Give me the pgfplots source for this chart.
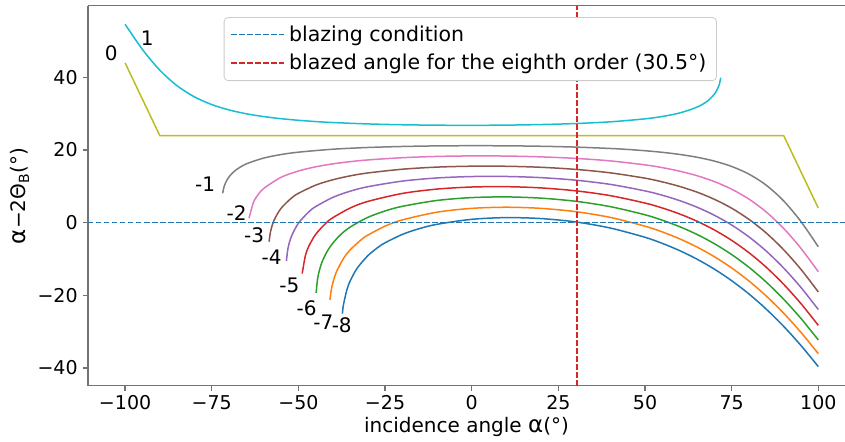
\documentclass[border=0pt]{standalone}
\usepackage{fontspec}
\setmainfont{DejaVu Sans}
\usepackage{pgfplots}
\pgfplotsset{compat=1.18}

\definecolor{c0}{HTML}{1F77B4}
\definecolor{c1}{HTML}{FF7F0E}
\definecolor{c2}{HTML}{2CA02C}
\definecolor{c3}{HTML}{D62728}
\definecolor{c4}{HTML}{9467BD}
\definecolor{c5}{HTML}{8C564B}
\definecolor{c6}{HTML}{E377C2}
\definecolor{c7}{HTML}{7F7F7F}
\definecolor{c8}{HTML}{BCBD22}
\definecolor{c9}{HTML}{17BECF}

\begin{document}
\begin{tikzpicture}
\begin{axis}[
    name=ax,
    scale only axis,
    width=378.5pt, height=190pt,
    xmin=-110.7, xmax=107.7,
    ymin=-44.9, ymax=59.75,
    axis y line*=left,
    axis line style={black!55, line width=0.6pt},
    tick pos=left,
    tick align=outside,
    major tick length=2.5pt,
    tick style={black!55, line width=0.6pt},
    xtick={-100,-75,-50,-25,0,25,50,75,100},
    xticklabels={−100,−75,−50,−25,0,25,50,75,100},
    ytick={-40,-20,0,20,40},
    yticklabels={−40,−20,0,20,40},
    ticklabel style={font=\fontsize{9.5}{10}\selectfont, inner sep=1pt},
    xticklabel style={yshift=-1.2pt},
    yticklabel style={xshift=-1.5pt},
    xlabel={incidence angle {\fontsize{11.5}{12}\selectfont α}(°)},
    ylabel={{\fontsize{11.5}{12}\selectfont α}−2Θ\textsubscript{B}(°)},
    xlabel style={font=\fontsize{10}{12}\selectfont, inner sep=0.5pt, at={(axis description cs:0.5,-0.108)}, anchor=center},
    ylabel style={font=\fontsize{10}{12}\selectfont, at={(axis description cs:-0.09,0.5)}, anchor=center},
    no marks,
    every axis plot/.append style={line width=0.75pt},
    legend style={
        at={(0.505,0.97)}, anchor=north,
        font=\fontsize{10.25}{12}\selectfont,
        draw=black!20, rounded corners=2pt,
        fill=white,
        row sep=1pt
    },
    legend cell align=left,
    legend image code/.code={\draw[#1] (0pt,0pt) -- (21pt,0pt); \path (0pt,0pt) -- (26.5pt,0pt);},
]

% order -8
\addplot[c0, smooth, tension=0.5, forget plot] coordinates {
(-37.3,-25.04) (-37,-22.62) (-36,-18.46) (-35,-15.92) (-33,-12.49) (-30,-9.12)
(-27,-6.78) (-25,-5.55) (-20,-3.23) (-15,-1.61) (-10,-0.45) (0,0.92) (10,1.39)
(20,1.13) (30,0.20) (40,-1.48) (50,-4.03) (55,-5.71) (60,-7.70) (65,-10.05)
(70,-12.79) (75,-15.98) (80,-19.64) (85,-23.83) (90,-28.55) (95,-33.83) (100,-39.64)};
% order -7
\addplot[c1, smooth, tension=0.5, forget plot] coordinates {
(-40.9,-21.25) (-40.5,-18.45) (-40,-16.33) (-39,-13.49) (-37,-9.88) (-35,-7.43)
(-32,-4.80) (-30,-3.46) (-25,-0.96) (-20,0.76) (-10,2.89) (0,3.94) (10,4.25)
(20,3.94) (30,3.03) (40,1.45) (50,-0.97) (55,-2.56) (60,-4.46) (65,-6.71)
(70,-9.37) (75,-12.47) (80,-16.07) (85,-20.22) (90,-24.93) (95,-30.22) (100,-36.07)};
% order -6
\addplot[c2, smooth, tension=0.5, forget plot] coordinates {
(-44.87,-19.33) (-44.5,-15.72) (-44,-13.36) (-43,-10.42) (-41,-6.82) (-38,-3.46)
(-35,-1.18) (-30,1.44) (-25,3.22) (-20,4.50) (-10,6.12) (0,6.90) (10,7.09)
(20,6.75) (30,5.89) (40,4.41) (50,2.17) (55,0.68) (60,-1.11) (65,-3.24)
(70,-5.78) (75,-8.78) (80,-12.30) (85,-16.39) (90,-21.09) (95,-26.39) (100,-32.30)};
% order -5
\addplot[c3, smooth, tension=0.5, forget plot] coordinates {
(-48.9,-14.02) (-48,-9.17) (-47,-6.51) (-45,-3.20) (-42,-0.08) (-40,1.40)
(-35,4.06) (-30,5.84) (-20,8.05) (-10,9.25) (0,9.82) (10,9.91) (20,9.57)
(30,8.77) (40,7.44) (50,5.40) (55,4.04) (60,2.39) (65,0.40) (70,-2.00)
(75,-4.87) (80,-8.28) (85,-12.30) (90,-16.97) (95,-22.30) (100,-28.28)};
% order -4
\addplot[c4, smooth, tension=0.5, forget plot] coordinates {
(-53.45,-10.53) (-53,-7.06) (-52,-3.74) (-50,-0.16) (-47,2.97) (-45,4.43)
(-40,6.99) (-35,8.68) (-30,9.89) (-20,11.45) (-10,12.31) (0,12.70) (10,12.72)
(20,12.40) (30,11.70) (40,10.54) (50,8.75) (55,7.55) (60,6.07) (65,4.26)
(70,2.05) (75,-0.65) (80,-3.92) (85,-7.85) (90,-12.49) (95,-17.85) (100,-23.92)};
% order -3
\addplot[c5, smooth, tension=0.5, forget plot] coordinates {
(-58.45,-5.24) (-58,-2.30) (-57,0.71) (-55,3.95) (-52,6.77) (-50,8.07)
(-45,10.34) (-40,11.83) (-35,12.90) (-30,13.68) (-20,14.72) (-10,15.30) (0,15.55)
(10,15.53) (20,15.25) (30,14.67) (40,13.72) (50,12.25) (55,11.23) (60,9.97)
(65,8.41) (70,6.44) (75,3.98) (80,0.91) (85,-2.87) (90,-7.46) (95,-12.87) (100,-19.09)};
% order -2
\addplot[c6, smooth, tension=0.5, forget plot] coordinates {
(-64.25,1.20) (-63,5.50) (-62,7.20) (-60,9.42) (-55,12.49) (-50,14.22)
(-45,15.38) (-40,16.20) (-35,16.81) (-30,17.27) (-20,17.89) (-10,18.24) (0,18.38)
(10,18.34) (20,18.12) (30,17.70) (40,17.01) (50,15.92) (55,15.15) (60,14.18)
(65,12.93) (70,11.32) (75,9.22) (80,6.48) (85,2.92) (90,-1.58) (95,-7.08) (100,-13.52)};
% order -1
\addplot[c7, smooth, tension=0.5, forget plot] coordinates {
(-71.85,8.08) (-71.5,9.69) (-71,11.00) (-70,12.63) (-68,14.53) (-65,16.19)
(-60,17.79) (-55,18.76) (-50,19.41) (-40,20.23) (-30,20.70) (-20,20.98) (-10,21.14)
(0,21.19) (10,21.16) (20,21.04) (30,20.81) (40,20.43) (45,20.16) (50,19.81)
(55,19.37) (60,18.79) (65,18.02) (70,16.96) (75,15.48) (80,13.36) (85,10.30)
(90,5.99) (95,0.30) (100,-6.64)};
% order 0
\addplot[c8, forget plot] coordinates {(-100,44) (-90,24) (90,24) (100,4)};
% order 1
\addplot[c9, smooth, tension=0.5, forget plot] coordinates {
(-100,54.64) (-95,47.70) (-90,42.01) (-85,37.70) (-80,34.64) (-75,32.52)
(-70,31.04) (-65,29.98) (-60,29.21) (-55,28.63) (-50,28.19) (-45,27.84) (-40,27.57)
(-30,27.19) (-20,26.96) (-10,26.84) (0,26.81) (10,26.86) (20,27.02) (30,27.30)
(40,27.77) (50,28.59) (55,29.24) (60,30.21) (65,31.81) (68,33.47) (70,35.37)
(71,37.00) (71.5,38.31) (71.85,39.92)};

% reference lines
\addplot[color=c0, line width=0.65pt, dash pattern=on 2.75pt off 1.25pt] coordinates {(-110.7,0) (107.7,0)};
\addlegendentry{blazing condition}
\addplot[color=c3, line width=1pt, dash pattern=on 2.75pt off 1.25pt] coordinates {(30.5,-44.9) (30.5,59.75)};
\addlegendentry{blazed angle for the eighth order (30.5°)}

\begin{scope}[every node/.style={font=\fontsize{10}{12}\selectfont}]
\node at (axis cs:-93.6,50.8) {1};
\node at (axis cs:-104.0,46.7) {0};
\node at (axis cs:-76.9,10.6) {-1};
\node at (axis cs:-67.8,2.75) {-2};
\node at (axis cs:-62.8,-3.4) {-3};
\node at (axis cs:-57.7,-9.4) {-4};
\node at (axis cs:-52.6,-17.4) {-5};
\node at (axis cs:-47.6,-23.6) {-6};
\node at (axis cs:-42.8,-27.5) {-7};
\node at (axis cs:-37.5,-28.2) {-8};
\end{scope}
\end{axis}
\pgfresetboundingbox
\path[use as bounding box] ([xshift=-44pt,yshift=-27.65pt]ax.south west) rectangle ([yshift=2.85pt]ax.north east);
\end{tikzpicture}
\end{document}
